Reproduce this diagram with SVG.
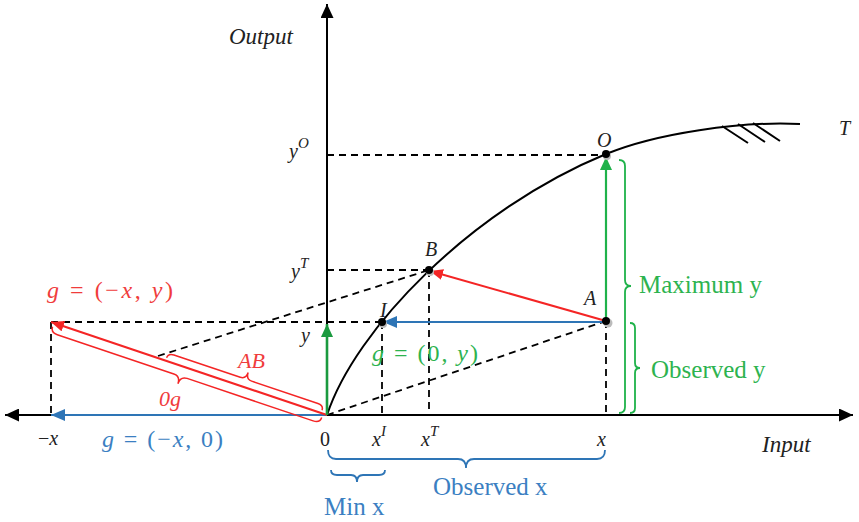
<svg xmlns="http://www.w3.org/2000/svg" width="859" height="522" viewBox="0 0 859 522">
<style>
.ax{stroke:#000;stroke-width:2;fill:none}
.dash{stroke:#000;stroke-width:1.8;stroke-dasharray:7,5;fill:none}
.curve{stroke:#000;stroke-width:2;fill:none}
.red{stroke:#f42525;stroke-width:2;fill:none}
.blue{stroke:#2e75b6;stroke-width:2.2;fill:none}
.green{stroke:#1fb24a;stroke-width:2.2;fill:none}
.dgreen{stroke:#1b9a3f;stroke-width:2.6;fill:none}
.brR{stroke:#f42525;stroke-width:1.5;fill:none}
.brB{stroke:#2e75b6;stroke-width:1.8;fill:none}
.brG{stroke:#1fb24a;stroke-width:1.8;fill:none}
text{font-family:"Liberation Serif","Times New Roman",serif}
.it{font-style:italic}
.lab{font-size:20px;fill:#222}
.sup{font-size:15px}
.tR{fill:#f03c3c}
.tB{fill:#3b7fc2}
.tG{fill:#2db34f}
.dot{fill:#000}
</style>
<defs>
<marker id="ahK" viewBox="0 0 14 13" refX="14" refY="6.5" markerWidth="14" markerHeight="13" markerUnits="userSpaceOnUse" orient="auto-start-reverse"><path d="M0,0 L14,6.5 L0,13 z" fill="#000"/></marker>
<marker id="ahR" viewBox="0 0 13 11" refX="13" refY="5.5" markerWidth="13" markerHeight="11" markerUnits="userSpaceOnUse" orient="auto"><path d="M0,0 L13,5.5 L0,11 z" fill="#f42525"/></marker>
<marker id="ahB" viewBox="0 0 14 12" refX="14" refY="6" markerWidth="14" markerHeight="12" markerUnits="userSpaceOnUse" orient="auto"><path d="M0,0 L14,6 L0,12 z" fill="#2e75b6"/></marker>
<marker id="ahG" viewBox="0 0 13 12" refX="13" refY="6" markerWidth="13" markerHeight="12" markerUnits="userSpaceOnUse" orient="auto"><path d="M0,0 L13,6 L0,12 z" fill="#1fb24a"/></marker>
<marker id="ahDG" viewBox="0 0 13 12" refX="13" refY="6" markerWidth="13" markerHeight="12" markerUnits="userSpaceOnUse" orient="auto"><path d="M0,0 L13,6 L0,12 z" fill="#1b9a3f"/></marker>
</defs>

<g id="guides">
<path class="dash" d="M327,155 H606"/>
<path class="dash" d="M327,270 H429"/>
<path class="dash" d="M51,322 H382"/>
<path class="dash" d="M51,322 V415"/>
<path class="dash" d="M382,322 V415"/>
<path class="dash" d="M429,270 V415"/>
<path class="dash" d="M606,321 V415"/>
<path class="dash" d="M327,415 L606,321"/>
<path class="dash" d="M158,356 L429,270"/>
</g>

<g id="axes">
<path class="ax" d="M5,415 H853" marker-start="url(#ahK)" marker-end="url(#ahK)"/>
<path class="ax" d="M327,415 V4" marker-end="url(#ahK)"/>
<text class="it" x="229" y="44" font-size="23" fill="#222">Output</text>
<text class="it" x="762" y="452" font-size="23" fill="#222">Input</text>
</g>

<g id="frontier">
<path class="curve" d="M327,415 C355,330 470,210 606,154 C656,133.4 740,121 800,124"/>
<path class="curve" stroke-width="1.8" d="M722,126 L748,143 M738,124 L765,142 M753,123 L780,141"/>
<text class="it" x="839" y="135" font-size="20" fill="#222">T</text>
</g>

<g id="connectors">
<path class="blue" d="M327,415 H51" marker-end="url(#ahB)"/>
<path class="red" d="M327,415 L51,322" marker-end="url(#ahR)"/>
<path class="red" d="M606,321 L430,271" marker-end="url(#ahR)"/>
<path class="blue" d="M606,322 H383" marker-end="url(#ahB)"/>
<path class="green" d="M606,321 V157" marker-end="url(#ahG)"/>
<path class="dgreen" d="M327,415 V324" marker-end="url(#ahDG)"/>
</g>

<g id="points">
<circle cx="607" cy="156" r="4" fill="#bbb"/><circle class="dot" cx="606" cy="154" r="4"/>
<circle cx="430" cy="272" r="4" fill="#bbb"/><circle class="dot" cx="429" cy="270" r="4"/>
<circle cx="383" cy="324" r="4" fill="#bbb"/><circle class="dot" cx="382" cy="322" r="4"/>
<circle cx="608" cy="323" r="4.5" fill="#bbb"/><circle class="dot" cx="606" cy="321" r="4"/>
</g>

<g id="point-labels">
<text class="it lab" x="597" y="147">O</text>
<text class="it lab" x="425" y="256">B</text>
<text class="it lab" x="584" y="305">A</text>
<text class="it lab" x="380" y="317">I</text>
<text class="it lab" x="289" y="158">y<tspan class="sup" dy="-10">O</tspan></text>
<text class="it lab" x="291" y="278">y<tspan class="sup" dy="-10">T</tspan></text>
<text class="it lab" x="301" y="342">y</text>
<text class="lab" x="320" y="446">0</text>
<text class="it lab" x="372" y="446">x<tspan class="sup" dy="-10">I</tspan></text>
<text class="it lab" x="421" y="446">x<tspan class="sup" dy="-10">T</tspan></text>
<text class="it lab" x="597" y="446">x</text>
<text class="lab" x="38" y="445">−<tspan class="it">x</tspan></text>
</g>

<g id="vector-labels">
<text class="tR" x="47" y="298" font-size="24" textLength="126" lengthAdjust="spacing"><tspan class="it">g</tspan> = (−<tspan class="it">x</tspan>, <tspan class="it">y</tspan>)</text>
<text class="tB" x="102" y="447" font-size="24" textLength="121" lengthAdjust="spacing"><tspan class="it">g</tspan> = (−<tspan class="it">x</tspan>, 0)</text>
<text class="tG" x="372" y="361" font-size="24" textLength="106" lengthAdjust="spacing"><tspan class="it">g</tspan> = (0, <tspan class="it">y</tspan>)</text>
</g>

<g id="brace-0g">
<path class="brR" transform="translate(51,322) rotate(18.62)" d="M3,4 Q3,10 10,10 L133,10 Q140,10 140,18 Q140,10 147,10 L280,10 Q287,10 287,4"/>
<text class="it tR" x="159" y="406" font-size="22">0g</text>
</g>
<g id="brace-AB">
<path class="brR" transform="translate(51,322) rotate(18.62)" d="M121,-3 Q121,-8 127,-8 L197,-8 Q203,-8 203,-15 Q203,-8 209,-8 L279,-8 Q285,-8 285,-3"/>
<text class="it tR" x="238" y="368" font-size="22">AB</text>
</g>
<g id="brace-max-y">
<path class="brG" d="M619,160 Q625,160 625,166 L625,280 Q625,286 631,286 Q625,286 625,292 L625,407 Q625,413 619,413"/>
<text class="tG" x="639" y="293" font-size="25">Maximum y</text>
</g>
<g id="brace-obs-y">
<path class="brG" d="M630,323 Q635,323 635,328 L635,363 Q635,368 640,368 Q635,368 635,373 L635,408 Q635,413 630,413"/>
<text class="tG" x="651" y="378" font-size="25">Observed y</text>
</g>
<g id="brace-obs-x">
<path class="brB" d="M328,450 Q328,459 336,459 L458,459 Q466,459 466,468 Q466,459 474,459 L597,459 Q605,459 605,450"/>
<text class="tB" x="433" y="495" font-size="25">Observed x</text>
</g>
<g id="brace-min-x">
<path class="brB" d="M331,470 Q331,475 337,475 L351,475 Q357,475 357,482 Q357,475 363,475 L379,475 Q385,475 385,470"/>
<text class="tB" x="324" y="515" font-size="25">Min x</text>
</g>
</svg>
